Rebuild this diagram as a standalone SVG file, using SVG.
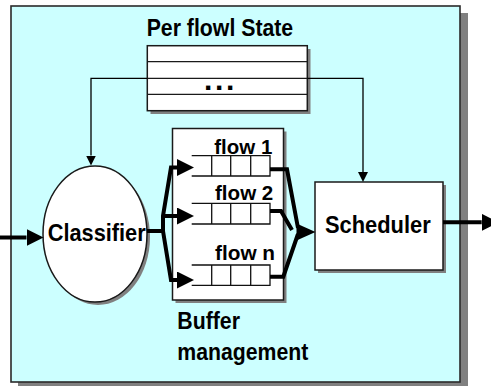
<svg xmlns="http://www.w3.org/2000/svg" width="491" height="386" viewBox="0 0 491 386">
  <defs>
    <style>
      .shadow { fill: #808080; stroke: none; }
      .box { fill: #ffffff; stroke: #1a1a1a; stroke-width: 1.5; }
      .panel { fill: #ccffff; stroke: #2a2a2a; stroke-width: 1.6; }
      .row { stroke: #1a1a1a; stroke-width: 1.3; fill: none; }
      .q { stroke: #111111; stroke-width: 1.3; fill: none; }
      .lbl { font-family: "Liberation Sans", Arial, Helvetica, sans-serif; font-weight: bold; fill: #000000; }
      .thick { fill: none; stroke: #000000; stroke-width: 4; stroke-linejoin: miter; }
      .thin { fill: none; stroke: #000000; stroke-width: 1.3; }
      .head { fill: #000000; stroke: none; }
    </style>
    <marker id="bigArrow" markerUnits="userSpaceOnUse" markerWidth="17" markerHeight="17" viewBox="0 -8.5 17 17" refX="0" refY="0" orient="auto">
      <path d="M0,-8.5 L17,0 L0,8.5 z" fill="#000000"/>
    </marker>
    <marker id="smallArrow" markerUnits="userSpaceOnUse" markerWidth="10" markerHeight="10" viewBox="0 -5 10 10" refX="0" refY="0" orient="auto">
      <path d="M0,-5 L10,0 L0,5 z" fill="#000000"/>
    </marker>
  </defs>

  <!-- background panel -->
  <g id="panel">
    <rect class="shadow" x="18" y="13" width="450" height="376"/>
    <rect class="panel" x="11" y="6" width="449" height="376"/>
  </g>

  <!-- per-flow state table -->
  <g id="state-table">
    <text class="lbl" x="146.7" y="36" font-size="24" textLength="146.5" lengthAdjust="spacingAndGlyphs">Per flowl State</text>
    <rect class="shadow" x="150.5" y="49" width="160" height="65"/>
    <rect class="box" x="147.3" y="45.7" width="160" height="65"/>
    <line class="row" x1="147.3" y1="61.7" x2="307.3" y2="61.7"/>
    <line class="row" x1="147.3" y1="78.3" x2="307.3" y2="78.3"/>
    <line class="row" x1="147.3" y1="94.3" x2="307.3" y2="94.3"/>
    <text class="lbl" x="204" y="90" font-size="30" letter-spacing="2.7">...</text>
  </g>

  <!-- classifier -->
  <g id="classifier">
    <ellipse class="shadow" cx="98" cy="237" rx="52" ry="68"/>
    <ellipse class="box" cx="95" cy="234" rx="52" ry="68"/>
    <text class="lbl" x="47.7" y="241" font-size="24" textLength="98" lengthAdjust="spacingAndGlyphs">Classifier</text>
  </g>

  <!-- buffer management with per-flow queues -->
  <g id="buffer">
    <rect class="shadow" x="175.5" y="131.5" width="111" height="171.5"/>
    <rect class="box" x="172.5" y="128.5" width="111" height="171.5"/>
    <text class="lbl" x="177.3" y="329.3" font-size="23" textLength="62.7" lengthAdjust="spacingAndGlyphs">Buffer</text>
    <text class="lbl" x="177.3" y="360" font-size="23" textLength="131" lengthAdjust="spacingAndGlyphs">management</text>
  </g>

  <g id="queue-1">
    <text class="lbl" x="214.3" y="154" font-size="20" textLength="58" lengthAdjust="spacingAndGlyphs">flow 1</text>
    <path class="q" d="M191.7,155.7 H270 V176 H191.7 M211.7,155.7 V176 M230.7,155.7 V176 M250.7,155.7 V176"/>
  </g>
  <g id="queue-2">
    <text class="lbl" x="215" y="200" font-size="20" textLength="58.3" lengthAdjust="spacingAndGlyphs">flow 2</text>
    <path class="q" d="M191.7,203.3 H270 V224 H191.7 M211.7,203.3 V224 M230.7,203.3 V224 M250.7,203.3 V224"/>
  </g>
  <g id="queue-n">
    <text class="lbl" x="215" y="260" font-size="20" textLength="60" lengthAdjust="spacingAndGlyphs">flow n</text>
    <path class="q" d="M191.7,265 H270 V285.3 H191.7 M211.7,265 V285.3 M230.7,265 V285.3 M250.7,265 V285.3"/>
  </g>

  <!-- scheduler -->
  <g id="scheduler">
    <rect class="shadow" x="318" y="185" width="128" height="88"/>
    <rect class="box" x="315" y="182" width="128" height="88"/>
    <text class="lbl" x="325" y="232.7" font-size="24" textLength="105.7" lengthAdjust="spacingAndGlyphs">Scheduler</text>
  </g>

  <!-- connectors -->
  <g id="connectors">
    <!-- state lookups -->
    <path class="thin" d="M147.3,78.3 H91 V155.5" marker-end="url(#smallArrow)"/>
    <path class="thin" d="M307.3,78.3 H363 V172" marker-end="url(#smallArrow)"/>

    <!-- packets in -->
    <path class="thick" d="M0,237.5 H26.5" marker-end="url(#bigArrow)"/>

    <!-- classifier fan-out to queues -->
    <path class="thick" d="M147,231 H163 V216 L171,167.5 H177" marker-end="url(#bigArrow)"/>
    <path class="thick" d="M163,216 H177" marker-end="url(#bigArrow)"/>
    <path class="thick" d="M163,231 L171,280 H177" marker-end="url(#bigArrow)"/>

    <!-- queues merge into scheduler -->
    <path class="thick" d="M270,169.3 H287 L298,228"/>
    <path class="thick" d="M270,211 H281 L292,230"/>
    <path class="thick" d="M270,276.7 H283.3 L298,234"/>
    <path class="head" d="M296.5,223.5 L315.5,232 L296.5,240.5 z"/>

    <!-- packets out -->
    <path class="thick" d="M443,222.3 H481.7" marker-end="url(#bigArrow)"/>
  </g>
</svg>
